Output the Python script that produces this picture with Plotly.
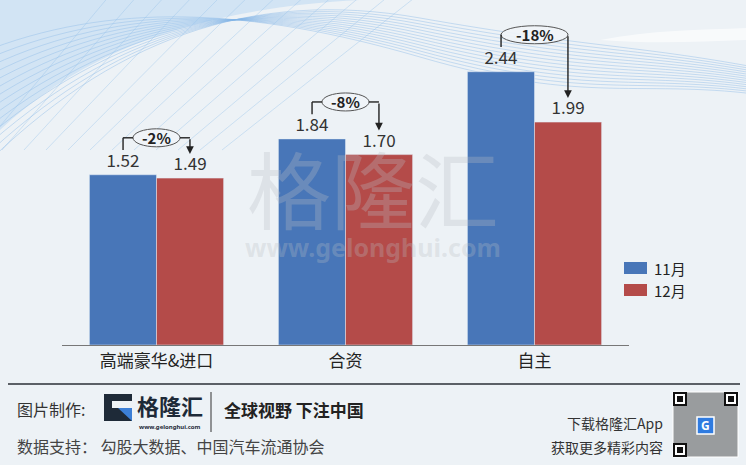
import plotly.graph_objects as go

# data
categories = ['高端豪华&进口', '合资', '自主']
nov = [1.52, 1.84, 2.44]
dec = [1.49, 1.70, 1.99]
series_names = ['11月', '12月']

BLUE = '#4876b8'
RED = '#b44b49'

W, H = 746, 465
L, R, T, B = 62, 117, 9, 120
PW, PH = W - L - R, H - T - B


def px(x):
    return (x - L) / PW


def py(y):
    return (H - B - y) / PH


def note(x, y, text, size, color='#333', anchor='center', family=None):
    f = dict(size=size, color=color)
    if family:
        f['family'] = family
    return dict(x=px(x), y=py(y), xref='paper', yref='paper', text=text, showarrow=False,
                xanchor=anchor, yanchor='middle', font=f)


def rect(x0, y0, x1, y1, fill, line=None):
    return dict(type='rect', xref='paper', yref='paper', x0=px(x0), x1=px(x1),
                y0=py(y1), y1=py(y0), fillcolor=fill, line=line or dict(width=0))


fig = go.Figure()
fig.add_trace(go.Bar(x=categories, y=nov, name=series_names[0], marker_color=BLUE,
                     text=nov, texttemplate='%{y:.2f}', textposition='outside',
                     textfont=dict(size=17, color='#333'), cliponaxis=False))
fig.add_trace(go.Bar(x=categories, y=dec, name=series_names[1], marker_color=RED,
                     text=dec, texttemplate='%{y:.2f}', textposition='outside',
                     textfont=dict(size=17, color='#333'), cliponaxis=False))

shapes = []
annotations = []

# background swooshes (decoration)
for k in range(14):
    path = 'M {:.4f},{:.4f} C {:.4f},{:.4f} {:.4f},{:.4f} {:.4f},{:.4f} S {:.4f},{:.4f} {:.4f},{:.4f}'.format(
        px(-20), py(170 - k * 9), px(110), py(40 - k * 3), px(250), py(-12 + k * 1.5),
        px(420), py(18 + k * 3), px(640), py(45 + k * 2.5), px(770), py(70 + k * 2))
    shapes.append(dict(type='path', xref='paper', yref='paper', path=path, layer='below',
                       line=dict(color='rgba(130,180,230,0.4)', width=1)))
for k in range(12):
    shapes.append(dict(type='line', xref='paper', yref='paper', layer='below',
                       x0=px(-20 + k * 22), y0=py(150), x1=px(110 + k * 28), y1=py(-5),
                       line=dict(color='rgba(150,195,235,0.4)', width=1)))
shapes.append(dict(type='path', xref='paper', yref='paper', layer='below',
                   path='M {},{} L {},{} L {},{} C {},{} {},{} {},{} Z'.format(
                       px(0), py(130), px(0), py(0), px(360), py(0),
                       px(210), py(8), px(90), py(45), px(0), py(130)),
                   fillcolor='rgba(150,195,240,0.3)', line=dict(width=0)))
shapes.append(dict(type='path', xref='paper', yref='paper', layer='below',
                   path='M {},{} C {},{} {},{} {},{} L {},{} C {},{} {},{} {},{} Z'.format(
                       px(600), py(40), px(650), py(30), px(700), py(30), px(746), py(28),
                       px(746), py(40), px(700), py(42), px(650), py(44), px(600), py(40)),
                   fillcolor='rgba(255,255,255,0.6)', line=dict(width=0)))

# change brackets
off = 0.177
for i, (a, b) in enumerate(zip(nov, dec)):
    label = '{:d}%'.format(round((b / a - 1) * 100))
    box_y = a + 0.33
    hw = (len(label) * 10 - 6.5) / (PW / 3)
    hh = 9 / (PH / 3.0)
    shapes.append(dict(type='circle', xref='x', yref='y', x0=i - hw, x1=i + hw,
                       y0=box_y - hh, y1=box_y + hh, fillcolor='rgba(240,244,248,0.9)',
                       line=dict(color='#555', width=1)))
    line = dict(color='#222', width=1.4)
    shapes.append(dict(type='line', xref='x', yref='y', x0=i - off, x1=i - off,
                       y0=a + 0.22, y1=box_y, line=line))
    shapes.append(dict(type='line', xref='x', yref='y', x0=i - off, x1=i - hw,
                       y0=box_y, y1=box_y, line=line))
    shapes.append(dict(type='line', xref='x', yref='y', x0=i + hw, x1=i + off,
                       y0=box_y, y1=box_y, line=line))
    annotations.append(dict(x=i + off, y=b + 0.215, ax=i + off, ay=box_y, axref='x', ayref='y',
                            xref='x', yref='y', text='', showarrow=True, arrowhead=2,
                            arrowsize=1.1, arrowwidth=1.4, arrowcolor='#222', standoff=0))
    annotations.append(dict(x=i, y=box_y, xref='x', yref='y', text='<b>' + label + '</b>',
                            xanchor='center', yanchor='middle',
                            showarrow=False, font=dict(size=15, color='#222')))

# watermark
annotations.append(note(373, 186, '格隆汇', 84, 'rgba(185,190,196,0.3)'))
annotations.append(note(373, 247, '<b>www.gelonghui.com</b>', 25, 'rgba(185,190,196,0.3)',
                        family='Noto Sans'))

# legend (manual)
for j, (nm, col) in enumerate(zip(series_names, [BLUE, RED])):
    yc = 268 + j * 22
    shapes.append(rect(624, yc - 6, 647, yc + 6, col))
    annotations.append(note(652, yc, nm, 15, '#222', anchor='left'))

# footer
shapes.append(dict(type='line', xref='paper', yref='paper', x0=px(8), x1=px(740),
                   y0=py(384), y1=py(384), line=dict(color='#2a2f36', width=1.5)))
annotations.append(note(15, 409, '图片制作:', 16, '#333', anchor='left'))
# logo
shapes.append(rect(104, 394, 132, 421, '#1e2a38'))
shapes.append(rect(112, 401, 132, 408, '#edf2f6'))
shapes.append(dict(type='path', xref='paper', yref='paper',
                   path='M {},{} L {},{} L {},{} Z'.format(px(118), py(408), px(132), py(408),
                                                           px(132), py(421)),
                   fillcolor='#3c7fd6', line=dict(width=0)))
annotations.append(note(170, 405, '<b>格隆汇</b>', 22, '#1e2a38'))
annotations.append(note(170, 427, '<b>www.gelonghui.com</b>', 6, '#1e2a38', family='Noto Sans'))
shapes.append(dict(type='line', xref='paper', yref='paper', x0=px(211), x1=px(211),
                   y0=py(392), y1=py(432), line=dict(color='#333', width=1)))
annotations.append(note(222, 409, '<b>全球视野 下注中国</b>', 17, '#222', anchor='left'))
annotations.append(note(15, 446, '数据支持： 勾股大数据、中国汽车流通协会', 16, '#444', anchor='left'))
annotations.append(note(665, 423, '下载格隆汇App', 14, '#333', anchor='right'))
annotations.append(note(665, 447, '获取更多精彩内容', 14, '#333', anchor='right'))

# qr code placeholder
shapes.append(rect(673, 392, 738, 457, 'rgba(70,70,70,0.5)', dict(color='#fff', width=1)))
for fx, fy in [(673, 392), (724, 392), (673, 443)]:
    shapes.append(rect(fx, fy, fx + 14, fy + 14, '#111'))
    shapes.append(rect(fx + 2, fy + 2, fx + 12, fy + 12, '#fff'))
    shapes.append(rect(fx + 4, fy + 4, fx + 10, fy + 10, '#111'))
shapes.append(rect(697, 417, 714, 434, '#2f7be0', dict(color='#fff', width=1.5)))
annotations.append(note(705.5, 425.5, '<b>G</b>', 12, '#fff', family='Noto Sans'))

fig.update_layout(
    width=W, height=H,
    margin=dict(l=L, r=R, t=T, b=B, autoexpand=False),
    paper_bgcolor='#edf2f6', plot_bgcolor='rgba(0,0,0,0)',
    font=dict(family='Noto Sans CJK SC, Noto Sans, sans-serif', color='#333'),
    barmode='group', bargap=0.29, bargroupgap=0,
    showlegend=False,
    shapes=shapes, annotations=annotations,
)
fig.update_xaxes(showline=True, linecolor='#777', linewidth=1.2, ticks='',
                 tickfont=dict(size=17, color='#222'), range=[-0.5, 2.5], showgrid=False)
fig.update_yaxes(visible=False, range=[0, 3.0], showgrid=False)

fig.write_html('out.html', config={'displayModeBar': False},
               post_script="document.body.style.margin='0';")
